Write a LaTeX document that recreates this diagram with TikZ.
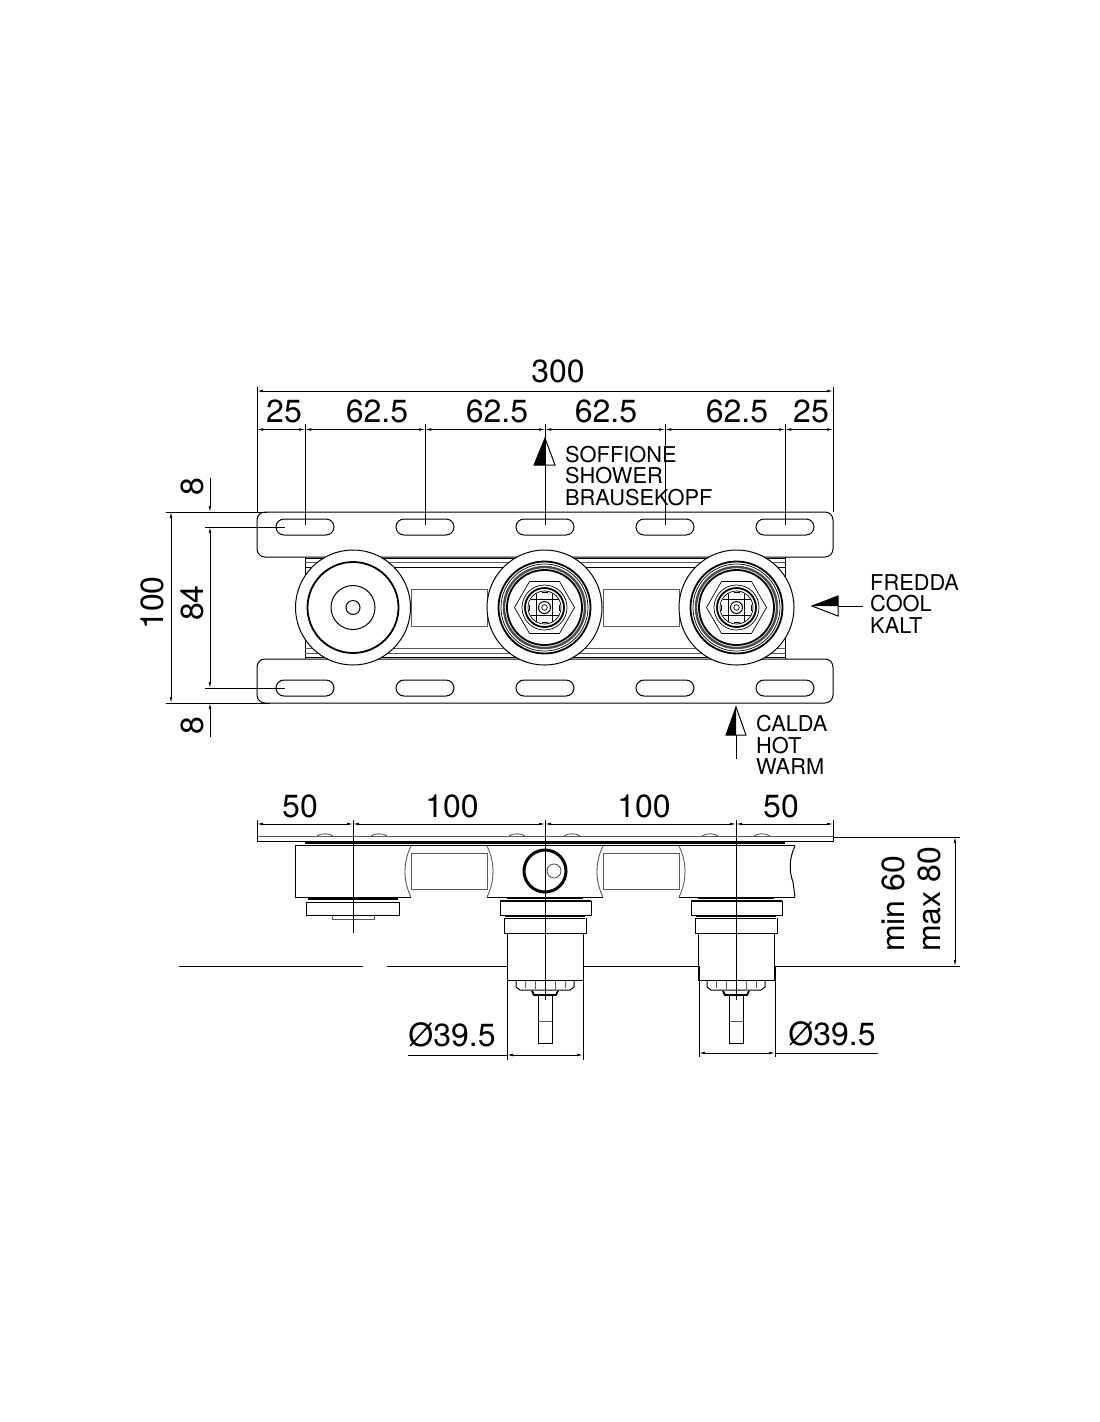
\documentclass[tikz,border=0pt]{standalone}
\usepackage{fontspec}
\setmainfont{TeX Gyre Heros}
\usetikzlibrary{arrows.meta,shapes.misc}
\tikzset{
    PL/.style ={line width=1pt},
    TK/.style ={line width=1.8pt},
    TN/.style ={line width=0.7pt},
    GR/.style ={line width=0.9pt,black!65},
    SL/.style ={rounded rectangle,minimum width = 58pt, minimum height = 16pt, inner sep=0pt, draw, line width=1pt},
    DM/.style ={line width=0.7pt,{Latex[length=6pt,width=2.6pt]}-{Latex[length=6pt,width=2.6pt]}},
    DE/.style ={line width=0.7pt,-{Latex[length=6pt,width=2.6pt]}},
    NU/.style ={inner sep=0pt,font=\fontsize{32}{32}\selectfont},
    NO/.style ={inner sep=0pt,anchor=west,align=left,font=\fontsize{21.8}{21.3}\selectfont},
    frontvalve/.pic={
        \draw[PL,fill=white] (0,0) circle[radius=57.5];
        \draw[TK] (0,0) circle[radius=46];
        \draw[TN] (0,0) circle[radius=43.5];
        \draw[line width=2.4pt,black!70] (0,0) circle[radius=40.5];
        \draw[TK] (0,0) circle[radius=37.5];
        \draw[TN] (30,0) -- (15,26) -- (-15,26) -- (-30,0) -- (-15,-26) -- (15,-26) -- cycle;
        \draw[TN] (0,0) circle[radius=22.5];
        \draw[TK] (0,0) circle[radius=19.5];
        \draw[TN] (0,0) circle[radius=16.5];
        \draw[PL] (-14,-8) -- (14,-8) (-14,8) -- (14,8) (-8,-14) -- (-8,14) (8,-14) -- (8,14);
        \draw[TK] (-3,-15) -- (3,-15) (-3,15) -- (3,15) (-15,-3) -- (-15,3) (15,-3) -- (15,3);
        \draw[PL,fill=white] (0,0) circle[radius=6];
        \draw[TN] (0,0) circle[radius=2.8];
    },
    rearvalve/.pic={
        \draw[TK] (-38,1) -- (38,1);
        \draw[PL,fill=white] (-45,4) rectangle (46,18);
        \draw[TK] (-45,4) -- (46,4);
        \draw[PL] (-40,19) -- (40,19) (-40,21) -- (40,21);
        \draw[PL] (-41,21) -- (-41,36) -- (41,36) -- (41,21);
        \draw[TN] (-38,36) -- (-38,83) -- (38,83) -- (38,36);
        \draw[PL] (-29,84) -- (-29,90) -- (-25,93) -- (25,93) -- (29,90) -- (29,84);
        \draw[GR] (-20,84) -- (-20,91) (-10,84) -- (-10,92) (0,84) -- (0,92) (10,84) -- (10,92) (20,84) -- (20,91);
        \draw[TK] (-13,94) -- (-11,98) -- (11,98) -- (13,94);
        \draw[PL] (-7,98) -- (-7,146) -- (7,146) -- (7,98);
        \draw[GR] (-7,124) -- (7,124);
    }}
\begin{document}
\begin{tikzpicture}[x=1pt,y=-1pt]
        \useasboundingbox (0,0) rectangle (1100,1422);
        % front view
        \draw[PL,rounded corners=8pt] (257,512) rectangle (833,557);
        \draw[PL,rounded corners=8pt] (257,659) rectangle (833,703);
        \draw[PL] (305,557) -- (305,659) (785,557) -- (785,659);
        \draw[PL] (305,558) -- (785,558) (305,567) -- (785,567) (305,657) -- (785,657);
        \draw[GR] (305,562) -- (785,562) (305,648) -- (785,648) (305,653) -- (785,653);
        \node[SL] (s1) at (305,527) {};
        \node[SL] (s2) at (425,527) {};
        \node[SL] (s3) at (545,527) {};
        \node[SL] (s4) at (665,527) {};
        \node[SL] (s5) at (785,527) {};
        \node[SL] (s6) at (305,688) {};
        \node[SL] (s7) at (425,688) {};
        \node[SL] (s8) at (545,688) {};
        \node[SL] (s9) at (665,688) {};
        \node[SL] (s10) at (785,688) {};
        \draw[GR,fill=white] (411,589) rectangle (487,626);
        \draw[GR,fill=white] (603,589) rectangle (679,626);
        \draw[PL,fill=white] (353,607.5) circle[radius=57.5];
        \draw[TK] (353,607.5) circle[radius=45.5];
        \draw[PL] (353,607.5) circle[radius=22];
        \draw[PL] (353,607.5) circle[radius=7];
        \pic at (544.5,607.5) {frontvalve};
        \pic at (736.5,607.5) {frontvalve};
        % dimensions of the front view
        \draw[PL] (257,387) -- (257,512);
        \draw[PL] (833,387) -- (833,512);
        \draw[DM] (257,391) -- (833,391);
        \draw[DM] (257,429.5) -- (305,429.5);
        \draw[DM] (305,429.5) -- (425,429.5);
        \draw[DM] (425,429.5) -- (545,429.5);
        \draw[DM] (545,429.5) -- (665,429.5);
        \draw[DM] (665,429.5) -- (785,429.5);
        \draw[DM] (785,429.5) -- (833,429.5);
        \draw[PL] (305,424) -- (305,525);
        \draw[PL] (425,424) -- (425,525);
        \draw[PL] (545,424) -- (545,525);
        \draw[PL] (665,424) -- (665,525);
        \draw[PL] (785,424) -- (785,525);
        \draw[TN] (166,512) -- (267,512) (166,703) -- (270,703);
        \draw[TN] (205,527) -- (285,527) (205,688) -- (285,688);
        \draw[DM] (171,512) -- (171,703);
        \draw[DE] (210,478) -- (210,512);
        \draw[DM] (210,527) -- (210,688);
        \draw[DE] (210,737) -- (210,703);
        \node[NU] (t300) at (558,371) {300};
        \node[NU] (t25a) at (284,411) {25};
        \node[NU] (t62a) at (377,411) {62.5};
        \node[NU] (t62b) at (497,411) {62.5};
        \node[NU] (t62c) at (606,411) {62.5};
        \node[NU] (t62d) at (737,411) {62.5};
        \node[NU] (t25b) at (811,411) {25};
        \node[NU,rotate=90] (t8a) at (192,487) {8};
        \node[NU,rotate=90] (t100) at (152,603) {100};
        \node[NU,rotate=90] (t84) at (192,603) {84};
        \node[NU,rotate=90] (t8b) at (192,726) {8};
        % flow arrows
        \draw[PL] (545,438) -- (555,465) -- (534,465) -- cycle;
        \fill (545,438) -- (545,465) -- (534,465) -- cycle;
        \draw[PL] (812,606) -- (838,596) -- (838,616) -- cycle;
        \fill (812,606) -- (838,596) -- (838,606) -- cycle;
        \draw[PL] (838,606) -- (863,606);
        \draw[PL] (736,707) -- (746,735) -- (726,735) -- cycle;
        \fill (736,707) -- (736,735) -- (726,735) -- cycle;
        \draw[PL] (736,735) -- (736,759);
        \node[NO] (soff) at (565,476) {SOFFIONE\\SHOWER\\BRAUSEKOPF};
        \node[NO] (fred) at (870,604) {FREDDA\\COOL\\KALT};
        \node[NO] (cald) at (756,745) {CALDA\\HOT\\WARM};
        % side view
        \draw[GR] (257,836) -- (833,836);
        \draw[PL] (833,836) -- (833,841) -- (257,841) -- (257,836);
        \draw[GR] (317,836) .. controls (321,833) and (329,833) .. (333,836);
        \draw[GR] (371,836) .. controls (375,833) and (383,833) .. (387,836);
        \draw[GR] (509,836) .. controls (513,833) and (521,833) .. (525,836);
        \draw[GR] (564,836) .. controls (568,833) and (576,833) .. (580,836);
        \draw[GR] (702,836) .. controls (706,833) and (714,833) .. (718,836);
        \draw[GR] (754,836) .. controls (758,833) and (766,833) .. (770,836);
        \draw[TK] (305,843) -- (785,843);
        \draw[PL] (295,845.5) -- (795,845.5);
        \draw[PL] (295,845.5) -- (295,897) -- (411,897);
        \draw[PL] (487,897) -- (603,897);
        \draw[PL] (679,897) -- (795,897);
        \draw[PL] (795,846) .. controls (789,858) and (789,872) .. (793,882) -- (795,897);
        \draw[GR] (411,853) rectangle (487,889);
        \draw[GR] (603,853) rectangle (679,889);
        \draw[GR] (411,846) .. controls (403,862) and (403,881) .. (411,897);
        \draw[GR] (487,846) .. controls (495,862) and (495,881) .. (487,897);
        \draw[GR] (603,846) .. controls (595,862) and (595,881) .. (603,897);
        \draw[GR] (679,846) .. controls (687,862) and (687,881) .. (679,897);
        \draw[TK] (308,899) -- (398,899);
        \draw[PL] (306,902) rectangle (399,915);
        \draw[GR] (332,915) -- (332,919) -- (374,919) -- (374,915);
        \draw[line width=3pt] (545,871) circle[radius=21];
        \draw[GR] (554,871) circle[radius=7];
        \pic at (545,897) {rearvalve};
        \pic at (736,897) {rearvalve};
        % floor line
        \draw[PL] (179,966.5) -- (363,966.5);
        \draw[PL] (387,966.5) -- (507,966.5);
        \draw[PL] (583,966.5) -- (699,966.5);
        \draw[PL] (775,966.5) -- (960,966.5);
        % dimensions of the side view
        \draw[PL] (257,820) -- (257,841);
        \draw[PL] (353,820) -- (353,933);
        \draw[PL] (545,820) -- (545,1000);
        \draw[PL] (736,820) -- (736,1000);
        \draw[PL] (833,820) -- (833,841);
        \draw[DM] (257,824) -- (353,824);
        \draw[DM] (353,824) -- (545,824);
        \draw[DM] (545,824) -- (736,824);
        \draw[DM] (736,824) -- (833,824);
        \draw[TN] (833,837) -- (960,837);
        \draw[DM] (955,837) -- (955,966);
        \draw[TN] (507,966) -- (507,1060);
        \draw[TN] (583,966) -- (583,1060);
        \draw[TN] (699,966) -- (699,1057);
        \draw[TN] (775,966) -- (775,1057);
        \draw[TN] (408,1055) -- (507,1055);
        \draw[DM] (507,1055) -- (583,1055);
        \draw[DM] (699,1053) -- (775,1053);
        \draw[TN] (775,1053) -- (878,1053);
        \node[NU] (t50a) at (300,806) {50};
        \node[NU] (t100a) at (452,806) {100};
        \node[NU] (t100b) at (644,806) {100};
        \node[NU] (t50b) at (781,806) {50};
        \node[NU] (d1) at (452,1035) {Ø39.5};
        \node[NU] (d2) at (832,1034) {Ø39.5};
        \node[NU,rotate=90,anchor=west] (tmin) at (893,952) {min 60};
        \node[NU,rotate=90,anchor=west] (tmax) at (929,952) {max 80};
    \end{tikzpicture}
\end{document}
